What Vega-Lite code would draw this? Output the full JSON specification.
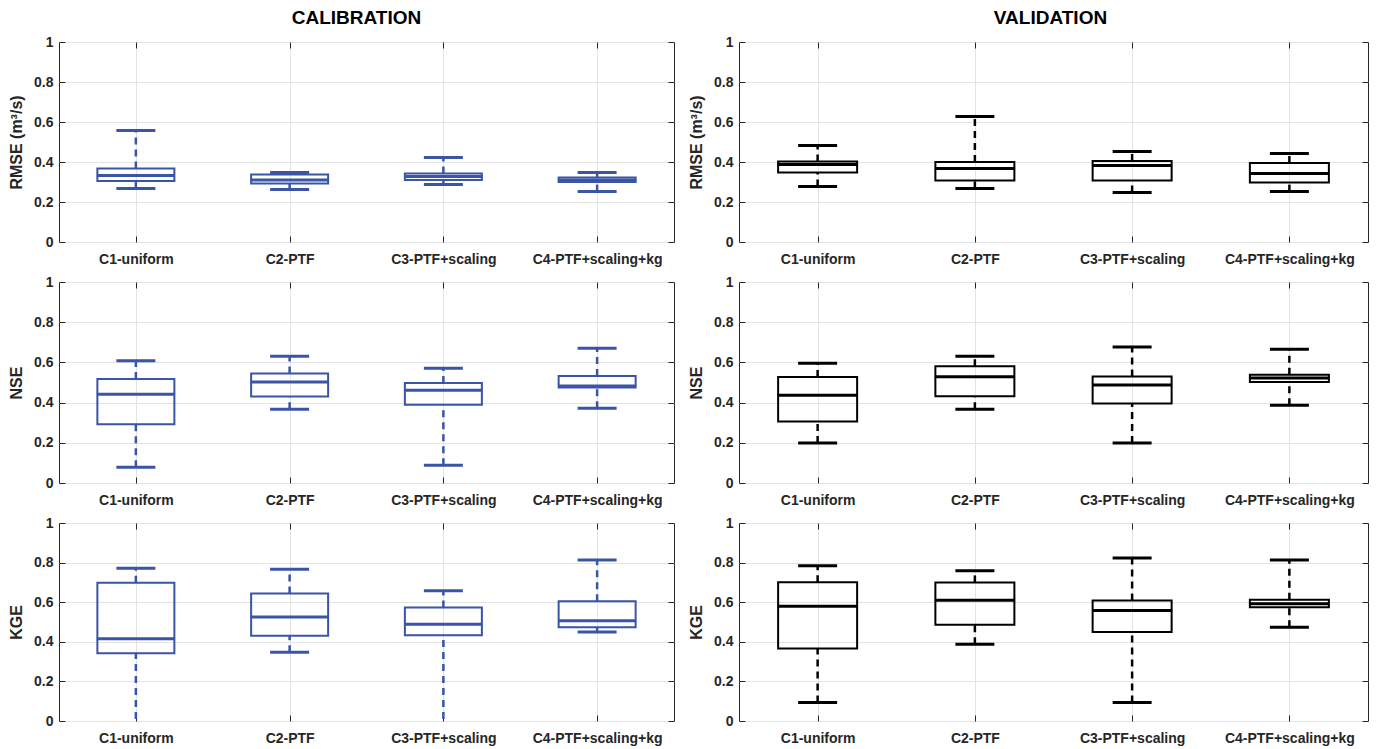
{
  "$schema": "https://vega.github.io/schema/vega-lite/v6.json",
  "padding": {"left": 8, "top": 8, "right": 5, "bottom": 5},
  "bounds": "flush",
  "align": "each",
  "columns": 2,
  "spacing": {"row": 40, "column": 65},
  "datasets": {
    "box": [
      {"phase": "Calibration", "metric": "RMSE", "config": "C1-uniform", "lo": 0.267, "q1": 0.305, "med": 0.333, "q3": 0.367, "hi": 0.558},
      {"phase": "Calibration", "metric": "RMSE", "config": "C2-PTF", "lo": 0.262, "q1": 0.293, "med": 0.31, "q3": 0.337, "hi": 0.347},
      {"phase": "Calibration", "metric": "RMSE", "config": "C3-PTF+scaling", "lo": 0.287, "q1": 0.31, "med": 0.328, "q3": 0.343, "hi": 0.423},
      {"phase": "Calibration", "metric": "RMSE", "config": "C4-PTF+scaling+kg", "lo": 0.252, "q1": 0.3, "med": 0.31, "q3": 0.322, "hi": 0.347},
      {"phase": "Validation", "metric": "RMSE", "config": "C1-uniform", "lo": 0.277, "q1": 0.348, "med": 0.388, "q3": 0.403, "hi": 0.482},
      {"phase": "Validation", "metric": "RMSE", "config": "C2-PTF", "lo": 0.268, "q1": 0.308, "med": 0.368, "q3": 0.4, "hi": 0.627},
      {"phase": "Validation", "metric": "RMSE", "config": "C3-PTF+scaling", "lo": 0.247, "q1": 0.308, "med": 0.383, "q3": 0.405, "hi": 0.453},
      {"phase": "Validation", "metric": "RMSE", "config": "C4-PTF+scaling+kg", "lo": 0.252, "q1": 0.298, "med": 0.343, "q3": 0.395, "hi": 0.442},
      {"phase": "Calibration", "metric": "NSE", "config": "C1-uniform", "lo": 0.078, "q1": 0.292, "med": 0.442, "q3": 0.517, "hi": 0.608},
      {"phase": "Calibration", "metric": "NSE", "config": "C2-PTF", "lo": 0.367, "q1": 0.43, "med": 0.502, "q3": 0.545, "hi": 0.631},
      {"phase": "Calibration", "metric": "NSE", "config": "C3-PTF+scaling", "lo": 0.088, "q1": 0.389, "med": 0.462, "q3": 0.497, "hi": 0.571},
      {"phase": "Calibration", "metric": "NSE", "config": "C4-PTF+scaling+kg", "lo": 0.372, "q1": 0.475, "med": 0.482, "q3": 0.532, "hi": 0.671},
      {"phase": "Validation", "metric": "NSE", "config": "C1-uniform", "lo": 0.199, "q1": 0.306, "med": 0.437, "q3": 0.527, "hi": 0.596},
      {"phase": "Validation", "metric": "NSE", "config": "C2-PTF", "lo": 0.367, "q1": 0.432, "med": 0.528, "q3": 0.581, "hi": 0.631},
      {"phase": "Validation", "metric": "NSE", "config": "C3-PTF+scaling", "lo": 0.199, "q1": 0.395, "med": 0.487, "q3": 0.53, "hi": 0.676},
      {"phase": "Validation", "metric": "NSE", "config": "C4-PTF+scaling+kg", "lo": 0.387, "q1": 0.502, "med": 0.522, "q3": 0.538, "hi": 0.666},
      {"phase": "Calibration", "metric": "KGE", "config": "C1-uniform", "lo": -0.05, "q1": 0.342, "med": 0.415, "q3": 0.698, "hi": 0.772},
      {"phase": "Calibration", "metric": "KGE", "config": "C2-PTF", "lo": 0.347, "q1": 0.43, "med": 0.525, "q3": 0.644, "hi": 0.767},
      {"phase": "Calibration", "metric": "KGE", "config": "C3-PTF+scaling", "lo": -0.05, "q1": 0.433, "med": 0.489, "q3": 0.573, "hi": 0.658},
      {"phase": "Calibration", "metric": "KGE", "config": "C4-PTF+scaling+kg", "lo": 0.45, "q1": 0.474, "med": 0.506, "q3": 0.605, "hi": 0.813},
      {"phase": "Validation", "metric": "KGE", "config": "C1-uniform", "lo": 0.094, "q1": 0.366, "med": 0.58, "q3": 0.701, "hi": 0.784},
      {"phase": "Validation", "metric": "KGE", "config": "C2-PTF", "lo": 0.388, "q1": 0.486, "med": 0.61, "q3": 0.7, "hi": 0.759},
      {"phase": "Validation", "metric": "KGE", "config": "C3-PTF+scaling", "lo": 0.094, "q1": 0.45, "med": 0.558, "q3": 0.609, "hi": 0.823},
      {"phase": "Validation", "metric": "KGE", "config": "C4-PTF+scaling+kg", "lo": 0.474, "q1": 0.575, "med": 0.592, "q3": 0.612, "hi": 0.813}
    ]
  },
  "concat": [
    {
      "data": {"name": "box"},
      "transform": [{"filter": "datum.phase == 'Calibration' && datum.metric == 'RMSE'"}],
      "width": 615, "height": 200,
      "title": {"text": "CALIBRATION", "dx": -10},
      "layer": [
        {"mark": {"type": "rule", "color": "#3a54a6", "strokeWidth": 2.5, "strokeDash": [7, 5], "clip": true},
         "encoding": {
           "x": {"field": "config", "type": "nominal", "sort": null, "scale": {"type": "point", "padding": 0.5}, "axis": {"orient": "bottom", "grid": true, "title": null, "labelAngle": 0, "labelPadding": 16}},
           "y": {"field": "lo", "type": "quantitative", "scale": {"domain": [0, 1], "nice": false}, "axis": {"orient": "left", "grid": true, "values": [0, 0.2, 0.4, 0.6, 0.8, 1], "format": "~g", "title": "RMSE (m³/s)", "labelPadding": 12, "titlePadding": 9}},
           "y2": {"field": "q1"}}},
        {"mark": {"type": "rule", "color": "#3a54a6", "strokeWidth": 2.5, "strokeDash": [7, 5], "clip": true},
         "encoding": {
           "x": {"field": "config", "type": "nominal", "sort": null, "axis": {"orient": "top", "grid": false, "labels": false, "title": null}},
           "y": {"field": "q3", "type": "quantitative", "axis": {"orient": "right", "grid": false, "labels": false, "values": [0, 0.2, 0.4, 0.6, 0.8, 1], "title": null}},
           "y2": {"field": "hi"}}},
        {"mark": {"type": "bar", "size": 77, "fill": "transparent", "stroke": "#3a54a6", "strokeWidth": 2},
         "encoding": {"x": {"field": "config", "type": "nominal", "sort": null, "axis": null}, "y": {"field": "q1", "type": "quantitative", "axis": null}, "y2": {"field": "q3"}}},
        {"mark": {"type": "tick", "orient": "horizontal", "size": 78, "thickness": 3, "color": "#3a54a6", "opacity": 1},
         "encoding": {"x": {"field": "config", "type": "nominal", "sort": null, "axis": null}, "y": {"field": "med", "type": "quantitative", "axis": null}}},
        {"mark": {"type": "tick", "orient": "horizontal", "size": 39, "thickness": 3, "color": "#3a54a6", "opacity": 1, "clip": true},
         "encoding": {"x": {"field": "config", "type": "nominal", "sort": null, "axis": null}, "y": {"field": "hi", "type": "quantitative", "axis": null}}},
        {"mark": {"type": "tick", "orient": "horizontal", "size": 39, "thickness": 3, "color": "#3a54a6", "opacity": 1, "clip": true},
         "encoding": {"x": {"field": "config", "type": "nominal", "sort": null, "axis": null}, "y": {"field": "lo", "type": "quantitative", "axis": null}}}
      ],
      "resolve": {"axis": {"x": "independent", "y": "independent"}}
    },
    {
      "data": {"name": "box"},
      "transform": [{"filter": "datum.phase == 'Validation' && datum.metric == 'RMSE'"}],
      "width": 629, "height": 200,
      "title": {"text": "VALIDATION", "dx": -3},
      "layer": [
        {"mark": {"type": "rule", "color": "#000000", "strokeWidth": 2.5, "strokeDash": [7, 5], "clip": true},
         "encoding": {
           "x": {"field": "config", "type": "nominal", "sort": null, "scale": {"type": "point", "padding": 0.5}, "axis": {"orient": "bottom", "grid": true, "title": null, "labelAngle": 0, "labelPadding": 16}},
           "y": {"field": "lo", "type": "quantitative", "scale": {"domain": [0, 1], "nice": false}, "axis": {"orient": "left", "grid": true, "values": [0, 0.2, 0.4, 0.6, 0.8, 1], "format": "~g", "title": "RMSE (m³/s)", "labelPadding": 12, "titlePadding": 9}},
           "y2": {"field": "q1"}}},
        {"mark": {"type": "rule", "color": "#000000", "strokeWidth": 2.5, "strokeDash": [7, 5], "clip": true},
         "encoding": {
           "x": {"field": "config", "type": "nominal", "sort": null, "axis": {"orient": "top", "grid": false, "labels": false, "title": null}},
           "y": {"field": "q3", "type": "quantitative", "axis": {"orient": "right", "grid": false, "labels": false, "values": [0, 0.2, 0.4, 0.6, 0.8, 1], "title": null}},
           "y2": {"field": "hi"}}},
        {"mark": {"type": "bar", "size": 79, "fill": "transparent", "stroke": "#000000", "strokeWidth": 2},
         "encoding": {"x": {"field": "config", "type": "nominal", "sort": null, "axis": null}, "y": {"field": "q1", "type": "quantitative", "axis": null}, "y2": {"field": "q3"}}},
        {"mark": {"type": "tick", "orient": "horizontal", "size": 80, "thickness": 3, "color": "#000000", "opacity": 1},
         "encoding": {"x": {"field": "config", "type": "nominal", "sort": null, "axis": null}, "y": {"field": "med", "type": "quantitative", "axis": null}}},
        {"mark": {"type": "tick", "orient": "horizontal", "size": 39, "thickness": 3, "color": "#000000", "opacity": 1, "clip": true},
         "encoding": {"x": {"field": "config", "type": "nominal", "sort": null, "axis": null}, "y": {"field": "hi", "type": "quantitative", "axis": null}}},
        {"mark": {"type": "tick", "orient": "horizontal", "size": 39, "thickness": 3, "color": "#000000", "opacity": 1, "clip": true},
         "encoding": {"x": {"field": "config", "type": "nominal", "sort": null, "axis": null}, "y": {"field": "lo", "type": "quantitative", "axis": null}}}
      ],
      "resolve": {"axis": {"x": "independent", "y": "independent"}}
    },
    {
      "data": {"name": "box"},
      "transform": [{"filter": "datum.phase == 'Calibration' && datum.metric == 'NSE'"}],
      "width": 615, "height": 201,
      "layer": [
        {"mark": {"type": "rule", "color": "#3a54a6", "strokeWidth": 2.5, "strokeDash": [7, 5], "clip": true},
         "encoding": {
           "x": {"field": "config", "type": "nominal", "sort": null, "scale": {"type": "point", "padding": 0.5}, "axis": {"orient": "bottom", "grid": true, "title": null, "labelAngle": 0, "labelPadding": 16}},
           "y": {"field": "lo", "type": "quantitative", "scale": {"domain": [0, 1], "nice": false}, "axis": {"orient": "left", "grid": true, "values": [0, 0.2, 0.4, 0.6, 0.8, 1], "format": "~g", "title": "NSE", "labelPadding": 12, "titlePadding": 9}},
           "y2": {"field": "q1"}}},
        {"mark": {"type": "rule", "color": "#3a54a6", "strokeWidth": 2.5, "strokeDash": [7, 5], "clip": true},
         "encoding": {
           "x": {"field": "config", "type": "nominal", "sort": null, "axis": {"orient": "top", "grid": false, "labels": false, "title": null}},
           "y": {"field": "q3", "type": "quantitative", "axis": {"orient": "right", "grid": false, "labels": false, "values": [0, 0.2, 0.4, 0.6, 0.8, 1], "title": null}},
           "y2": {"field": "hi"}}},
        {"mark": {"type": "bar", "size": 77, "fill": "transparent", "stroke": "#3a54a6", "strokeWidth": 2},
         "encoding": {"x": {"field": "config", "type": "nominal", "sort": null, "axis": null}, "y": {"field": "q1", "type": "quantitative", "axis": null}, "y2": {"field": "q3"}}},
        {"mark": {"type": "tick", "orient": "horizontal", "size": 78, "thickness": 3, "color": "#3a54a6", "opacity": 1},
         "encoding": {"x": {"field": "config", "type": "nominal", "sort": null, "axis": null}, "y": {"field": "med", "type": "quantitative", "axis": null}}},
        {"mark": {"type": "tick", "orient": "horizontal", "size": 39, "thickness": 3, "color": "#3a54a6", "opacity": 1, "clip": true},
         "encoding": {"x": {"field": "config", "type": "nominal", "sort": null, "axis": null}, "y": {"field": "hi", "type": "quantitative", "axis": null}}},
        {"mark": {"type": "tick", "orient": "horizontal", "size": 39, "thickness": 3, "color": "#3a54a6", "opacity": 1, "clip": true},
         "encoding": {"x": {"field": "config", "type": "nominal", "sort": null, "axis": null}, "y": {"field": "lo", "type": "quantitative", "axis": null}}}
      ],
      "resolve": {"axis": {"x": "independent", "y": "independent"}}
    },
    {
      "data": {"name": "box"},
      "transform": [{"filter": "datum.phase == 'Validation' && datum.metric == 'NSE'"}],
      "width": 629, "height": 201,
      "layer": [
        {"mark": {"type": "rule", "color": "#000000", "strokeWidth": 2.5, "strokeDash": [7, 5], "clip": true},
         "encoding": {
           "x": {"field": "config", "type": "nominal", "sort": null, "scale": {"type": "point", "padding": 0.5}, "axis": {"orient": "bottom", "grid": true, "title": null, "labelAngle": 0, "labelPadding": 16}},
           "y": {"field": "lo", "type": "quantitative", "scale": {"domain": [0, 1], "nice": false}, "axis": {"orient": "left", "grid": true, "values": [0, 0.2, 0.4, 0.6, 0.8, 1], "format": "~g", "title": "NSE", "labelPadding": 12, "titlePadding": 9}},
           "y2": {"field": "q1"}}},
        {"mark": {"type": "rule", "color": "#000000", "strokeWidth": 2.5, "strokeDash": [7, 5], "clip": true},
         "encoding": {
           "x": {"field": "config", "type": "nominal", "sort": null, "axis": {"orient": "top", "grid": false, "labels": false, "title": null}},
           "y": {"field": "q3", "type": "quantitative", "axis": {"orient": "right", "grid": false, "labels": false, "values": [0, 0.2, 0.4, 0.6, 0.8, 1], "title": null}},
           "y2": {"field": "hi"}}},
        {"mark": {"type": "bar", "size": 79, "fill": "transparent", "stroke": "#000000", "strokeWidth": 2},
         "encoding": {"x": {"field": "config", "type": "nominal", "sort": null, "axis": null}, "y": {"field": "q1", "type": "quantitative", "axis": null}, "y2": {"field": "q3"}}},
        {"mark": {"type": "tick", "orient": "horizontal", "size": 80, "thickness": 3, "color": "#000000", "opacity": 1},
         "encoding": {"x": {"field": "config", "type": "nominal", "sort": null, "axis": null}, "y": {"field": "med", "type": "quantitative", "axis": null}}},
        {"mark": {"type": "tick", "orient": "horizontal", "size": 39, "thickness": 3, "color": "#000000", "opacity": 1, "clip": true},
         "encoding": {"x": {"field": "config", "type": "nominal", "sort": null, "axis": null}, "y": {"field": "hi", "type": "quantitative", "axis": null}}},
        {"mark": {"type": "tick", "orient": "horizontal", "size": 39, "thickness": 3, "color": "#000000", "opacity": 1, "clip": true},
         "encoding": {"x": {"field": "config", "type": "nominal", "sort": null, "axis": null}, "y": {"field": "lo", "type": "quantitative", "axis": null}}}
      ],
      "resolve": {"axis": {"x": "independent", "y": "independent"}}
    },
    {
      "data": {"name": "box"},
      "transform": [{"filter": "datum.phase == 'Calibration' && datum.metric == 'KGE'"}],
      "width": 615, "height": 198,
      "layer": [
        {"mark": {"type": "rule", "color": "#3a54a6", "strokeWidth": 2.5, "strokeDash": [7, 5], "clip": true},
         "encoding": {
           "x": {"field": "config", "type": "nominal", "sort": null, "scale": {"type": "point", "padding": 0.5}, "axis": {"orient": "bottom", "grid": true, "title": null, "labelAngle": 0, "labelPadding": 16}},
           "y": {"field": "lo", "type": "quantitative", "scale": {"domain": [0, 1], "nice": false}, "axis": {"orient": "left", "grid": true, "values": [0, 0.2, 0.4, 0.6, 0.8, 1], "format": "~g", "title": "KGE", "labelPadding": 12, "titlePadding": 9}},
           "y2": {"field": "q1"}}},
        {"mark": {"type": "rule", "color": "#3a54a6", "strokeWidth": 2.5, "strokeDash": [7, 5], "clip": true},
         "encoding": {
           "x": {"field": "config", "type": "nominal", "sort": null, "axis": {"orient": "top", "grid": false, "labels": false, "title": null}},
           "y": {"field": "q3", "type": "quantitative", "axis": {"orient": "right", "grid": false, "labels": false, "values": [0, 0.2, 0.4, 0.6, 0.8, 1], "title": null}},
           "y2": {"field": "hi"}}},
        {"mark": {"type": "bar", "size": 77, "fill": "transparent", "stroke": "#3a54a6", "strokeWidth": 2},
         "encoding": {"x": {"field": "config", "type": "nominal", "sort": null, "axis": null}, "y": {"field": "q1", "type": "quantitative", "axis": null}, "y2": {"field": "q3"}}},
        {"mark": {"type": "tick", "orient": "horizontal", "size": 78, "thickness": 3, "color": "#3a54a6", "opacity": 1},
         "encoding": {"x": {"field": "config", "type": "nominal", "sort": null, "axis": null}, "y": {"field": "med", "type": "quantitative", "axis": null}}},
        {"mark": {"type": "tick", "orient": "horizontal", "size": 39, "thickness": 3, "color": "#3a54a6", "opacity": 1, "clip": true},
         "encoding": {"x": {"field": "config", "type": "nominal", "sort": null, "axis": null}, "y": {"field": "hi", "type": "quantitative", "axis": null}}},
        {"mark": {"type": "tick", "orient": "horizontal", "size": 39, "thickness": 3, "color": "#3a54a6", "opacity": 1, "clip": true},
         "encoding": {"x": {"field": "config", "type": "nominal", "sort": null, "axis": null}, "y": {"field": "lo", "type": "quantitative", "axis": null}}}
      ],
      "resolve": {"axis": {"x": "independent", "y": "independent"}}
    },
    {
      "data": {"name": "box"},
      "transform": [{"filter": "datum.phase == 'Validation' && datum.metric == 'KGE'"}],
      "width": 629, "height": 198,
      "layer": [
        {"mark": {"type": "rule", "color": "#000000", "strokeWidth": 2.5, "strokeDash": [7, 5], "clip": true},
         "encoding": {
           "x": {"field": "config", "type": "nominal", "sort": null, "scale": {"type": "point", "padding": 0.5}, "axis": {"orient": "bottom", "grid": true, "title": null, "labelAngle": 0, "labelPadding": 16}},
           "y": {"field": "lo", "type": "quantitative", "scale": {"domain": [0, 1], "nice": false}, "axis": {"orient": "left", "grid": true, "values": [0, 0.2, 0.4, 0.6, 0.8, 1], "format": "~g", "title": "KGE", "labelPadding": 12, "titlePadding": 9}},
           "y2": {"field": "q1"}}},
        {"mark": {"type": "rule", "color": "#000000", "strokeWidth": 2.5, "strokeDash": [7, 5], "clip": true},
         "encoding": {
           "x": {"field": "config", "type": "nominal", "sort": null, "axis": {"orient": "top", "grid": false, "labels": false, "title": null}},
           "y": {"field": "q3", "type": "quantitative", "axis": {"orient": "right", "grid": false, "labels": false, "values": [0, 0.2, 0.4, 0.6, 0.8, 1], "title": null}},
           "y2": {"field": "hi"}}},
        {"mark": {"type": "bar", "size": 79, "fill": "transparent", "stroke": "#000000", "strokeWidth": 2},
         "encoding": {"x": {"field": "config", "type": "nominal", "sort": null, "axis": null}, "y": {"field": "q1", "type": "quantitative", "axis": null}, "y2": {"field": "q3"}}},
        {"mark": {"type": "tick", "orient": "horizontal", "size": 80, "thickness": 3, "color": "#000000", "opacity": 1},
         "encoding": {"x": {"field": "config", "type": "nominal", "sort": null, "axis": null}, "y": {"field": "med", "type": "quantitative", "axis": null}}},
        {"mark": {"type": "tick", "orient": "horizontal", "size": 39, "thickness": 3, "color": "#000000", "opacity": 1, "clip": true},
         "encoding": {"x": {"field": "config", "type": "nominal", "sort": null, "axis": null}, "y": {"field": "hi", "type": "quantitative", "axis": null}}},
        {"mark": {"type": "tick", "orient": "horizontal", "size": 39, "thickness": 3, "color": "#000000", "opacity": 1, "clip": true},
         "encoding": {"x": {"field": "config", "type": "nominal", "sort": null, "axis": null}, "y": {"field": "lo", "type": "quantitative", "axis": null}}}
      ],
      "resolve": {"axis": {"x": "independent", "y": "independent"}}
    }
  ],
  "config": {
    "background": "white",
    "view": {"stroke": "#262626", "strokeWidth": 1},
    "axis": {
      "labelFont": "Liberation Sans", "labelFontWeight": "bold", "labelFontSize": 14, "labelColor": "#262626",
      "titleFont": "Liberation Sans", "titleFontWeight": "bold", "titleFontSize": 16, "titleColor": "#262626",
      "tickColor": "#262626", "tickSize": -6, "tickWidth": 1, "domain": false,
      "gridColor": "#e3e3e3", "gridWidth": 1
    },
    "title": {"font": "Liberation Sans", "fontSize": 19, "fontWeight": "bold", "color": "#000000", "offset": 7}
  }
}
